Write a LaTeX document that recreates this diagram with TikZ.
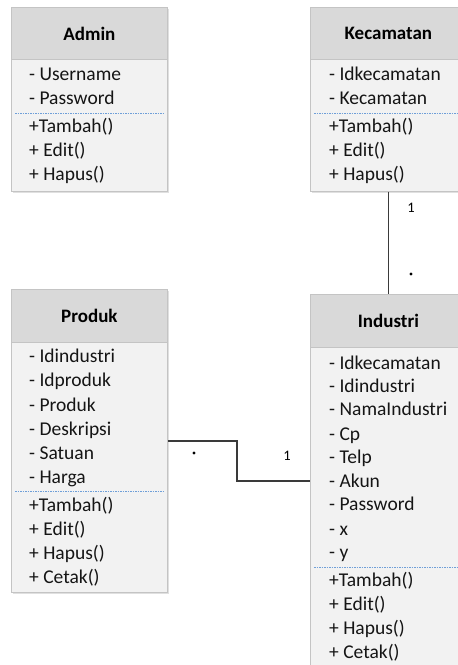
\documentclass[tikz,border=0pt]{standalone}
\usepackage{fontspec}
\setmainfont{Carlito}
\begin{document}
\begin{tikzpicture}[x=1pt,y=-1pt,
  hdr/.style={draw=boxline, fill=hdrfill, line width=0.8pt, minimum width=156pt, anchor=north west, inner sep=0pt, font=\fontsize{19}{22}\selectfont\bfseries, text=black},
  bodyb/.style={draw=boxline, fill=bodyfill, line width=0.8pt, minimum width=156pt, anchor=north west, inner sep=0pt},
  item/.style={anchor=west, inner sep=0pt, yshift=-1.5pt, text height=13pt, text depth=4pt, font=\fontsize{19.5}{22}\selectfont, text=txt},
  sep/.style={draw=sepblue, line width=1pt, dash pattern=on 1.5pt off 1pt},
  conn/.style={draw=connc, line width=1.3pt},
  mult/.style={inner sep=0pt, font=\fontsize{14.5}{16}\selectfont, text=black},
  shad/.style={fill=black!12}
]
\definecolor{boxline}{HTML}{C4C4C4}
\definecolor{hdrfill}{HTML}{D9D9D9}
\definecolor{bodyfill}{HTML}{F2F2F2}
\definecolor{txt}{HTML}{151515}
\definecolor{sepblue}{HTML}{6F9FD8}
\definecolor{connc}{HTML}{3A3A3A}
\useasboundingbox (0,0) rectangle (458,665);
\clip (0,0) rectangle (458,665);
\fill[white] (0,0) rectangle (458,665);

% shadows
\fill[shad] (12.5,8.5) rectangle (169,193);
\fill[shad] (311.5,8.5) rectangle (468,193);
\fill[shad] (12.5,290.5) rectangle (169,594);
\fill[shad] (311.5,295.5) rectangle (468,690);

% Admin
\node[bodyb, minimum height=132pt] (admB) at (11,59) {};
\node[hdr, minimum height=52pt] (adm) at (11,7) {Admin};
\node[item] (adm1) at (29,74) {- Username};
\node[item] (adm2) at (29,98) {- Password};
\draw[sep] (15,113) -- (163,113);
\node[item] (adm3) at (29,126) {+Tambah()};
\node[item] (adm4) at (29,150) {+ Edit()};
\node[item] (adm5) at (29,174) {+ Hapus()};

% Kecamatan
\node[bodyb, minimum height=132pt] (kecB) at (310,59) {};
\node[hdr, minimum height=52pt] (kec) at (310,7) {Kecamatan};
\node[item] (kec1) at (329,74) {- Idkecamatan};
\node[item] (kec2) at (329,98) {- Kecamatan};
\draw[sep] (314,113) -- (462,113);
\node[item] (kec3) at (329,126) {+Tambah()};
\node[item] (kec4) at (329,150) {+ Edit()};
\node[item] (kec5) at (329,174) {+ Hapus()};

% Produk
\node[bodyb, minimum height=250pt] (prodB) at (11,342) {};
\node[hdr, minimum height=53pt] (prod) at (11,289) {Produk};
\node[item] (p1) at (29,356) {- Idindustri};
\node[item] (p2) at (29,380) {- Idproduk};
\node[item] (p3) at (29,405) {- Produk};
\node[item] (p4) at (29,429) {- Deskripsi};
\node[item] (p5) at (29,453) {- Satuan};
\node[item] (p6) at (29,477) {- Harga};
\draw[sep] (15,491) -- (163,491);
\node[item] (p7) at (29,505) {+Tambah()};
\node[item] (p8) at (29,529) {+ Edit()};
\node[item] (p9) at (29,553) {+ Hapus()};
\node[item] (p10) at (29,577) {+ Cetak()};

% Industri
\node[bodyb, minimum height=340pt] (indB) at (310,347) {};
\node[hdr, minimum height=53pt] (ind) at (310,294) {Industri};
\node[item] (i1) at (329,363) {- Idkecamatan};
\node[item] (i2) at (329,386) {- Idindustri};
\node[item] (i3) at (329,409) {- NamaIndustri};
\node[item] (i4) at (329,434) {- Cp};
\node[item] (i5) at (329,457) {- Telp};
\node[item] (i6) at (329,481) {- Akun};
\node[item] (i7) at (329,504) {- Password};
\node[item] (i8) at (329,529) {- x};
\node[item] (i9) at (329,552) {- y};
\draw[sep] (314,567) -- (462,567);
\node[item] (i10) at (329,580) {+Tambah()};
\node[item] (i11) at (329,604) {+ Edit()};
\node[item] (i12) at (329,628) {+ Hapus()};
\node[item] (i13) at (329,652) {+ Cetak()};

% connectors
\draw[conn] (kecB.south) -- (ind.north);
\node[mult] (m1) at (411,208) {1};
\fill[black] (411,274) circle (1.6pt);
\coordinate (ca) at (prodB.east |- 0,441);
\coordinate (cb) at (indB.west |- 0,481);
\draw[conn] (ca) -- (237,441) |- (cb);
\fill[black] (194,453) circle (1.6pt);
\node[mult] (m2) at (287,456) {1};
\end{tikzpicture}
\end{document}
